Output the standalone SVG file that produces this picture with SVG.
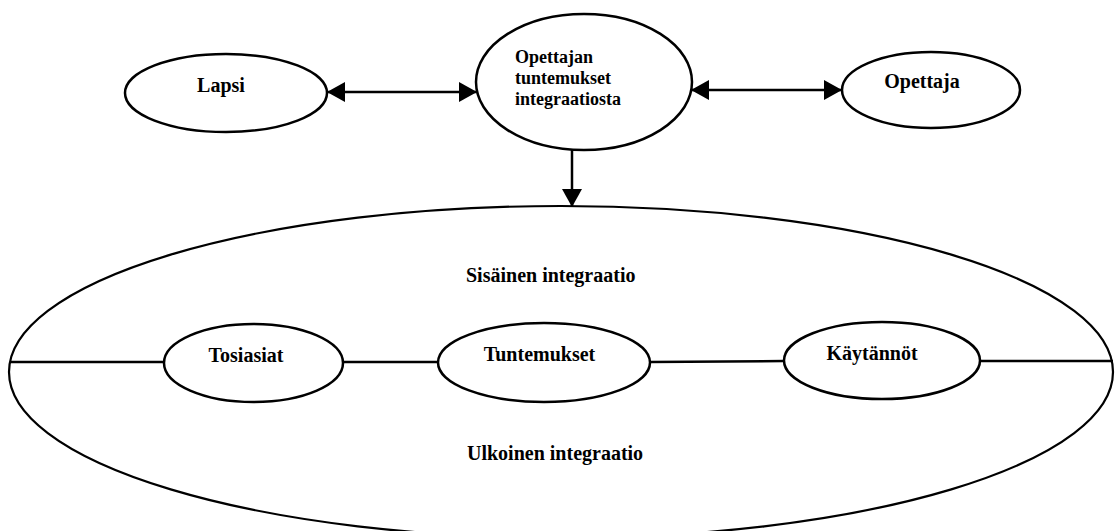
<svg xmlns="http://www.w3.org/2000/svg" width="1116" height="531" viewBox="0 0 1116 531">
<style>
.node{fill:#fff;stroke:#000;stroke-width:2.5}
.big{fill:none;stroke:#000;stroke-width:2.2}
.conn{stroke:#000;stroke-width:2.5;fill:none}
text{font-family:"Liberation Serif","Times New Roman",serif;font-size:20px;font-weight:bold;fill:#000}
.c{text-anchor:middle}
.m{font-size:18px}
</style>
<defs>
<marker id="arr" viewBox="0 0 18 20" refX="18" refY="10" markerWidth="18" markerHeight="20" markerUnits="userSpaceOnUse" orient="auto-start-reverse">
<path d="M0,0 L18,10 L0,20 Z" fill="#000"/>
</marker>
</defs>
<g id="outer">
<ellipse class="big" cx="561" cy="372" rx="552" ry="166"/>
<text x="466" y="282">Sisäinen integraatio</text>
<text x="467" y="460">Ulkoinen integraatio</text>
</g>
<g id="connectors">
<line class="conn" x1="327" y1="92" x2="477" y2="92" marker-start="url(#arr)" marker-end="url(#arr)"/>
<line class="conn" x1="691" y1="90" x2="842" y2="90" marker-start="url(#arr)" marker-end="url(#arr)"/>
<line class="conn" x1="572" y1="150" x2="572" y2="207" marker-end="url(#arr)"/>
<line class="conn" x1="10" y1="362" x2="164" y2="362"/>
<line class="conn" x1="343" y1="362" x2="438" y2="362"/>
<line class="conn" x1="650" y1="362" x2="784" y2="361"/>
<line class="conn" x1="980" y1="361" x2="1113" y2="361"/>
</g>
<g id="lapsi">
<ellipse class="node" cx="226" cy="93" rx="101" ry="39"/>
<text class="c" x="221" y="92">Lapsi</text>
</g>
<g id="tuntemukset-integraatiosta">
<ellipse class="node" cx="584" cy="82" rx="108" ry="68"/>
<text class="m" x="515" y="63">Opettajan</text>
<text class="m" x="515" y="84">tuntemukset</text>
<text class="m" x="515" y="105">integraatiosta</text>
</g>
<g id="opettaja">
<ellipse class="node" cx="931" cy="90" rx="89" ry="38"/>
<text class="c" x="922" y="88">Opettaja</text>
</g>
<g id="tosiasiat">
<ellipse class="node" cx="253.5" cy="363" rx="89.5" ry="39"/>
<text class="c" x="246" y="362">Tosiasiat</text>
</g>
<g id="tuntemukset">
<ellipse class="node" cx="544" cy="362.5" rx="106" ry="39.5"/>
<text class="c" x="539.5" y="361">Tuntemukset</text>
</g>
<g id="kaytannot">
<ellipse class="node" cx="882" cy="360.5" rx="98" ry="38.5"/>
<text class="c" x="872" y="360">Käytännöt</text>
</g>
</svg>
